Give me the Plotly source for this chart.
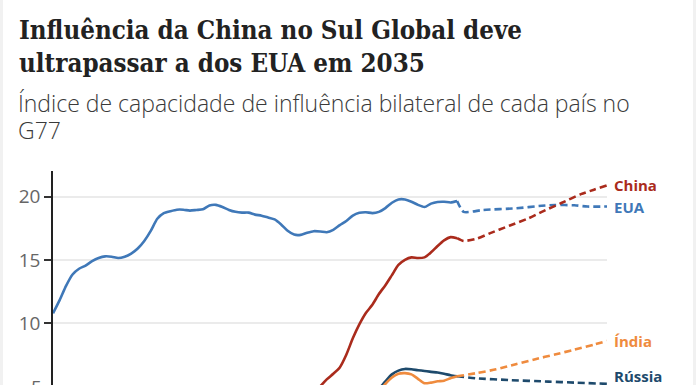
import plotly.graph_objects as go

# ---------------- data ----------------
years_hist = list(range(1960, 2023))
eua_hist = [10.78, 11.8, 12.95, 13.85, 14.3, 14.55, 14.9, 15.15, 15.28, 15.25,
            15.15, 15.25, 15.5, 15.9, 16.5, 17.3, 18.25, 18.7, 18.85, 18.97,
            18.97, 18.9, 18.95, 19.0, 19.3, 19.35, 19.18, 18.95, 18.8, 18.74,
            18.74, 18.58, 18.5, 18.35, 18.2, 17.8, 17.3, 17.0, 16.98, 17.15,
            17.27, 17.25, 17.19, 17.38, 17.75, 18.08, 18.5, 18.72, 18.77, 18.7,
            18.8, 19.1, 19.52, 19.78, 19.78, 19.6, 19.35, 19.18, 19.45, 19.58,
            19.6, 19.54, 19.66]

years_china_hist = list(range(2000, 2023))
china_hist = [4.4, 5.0, 5.55, 6.0, 6.5, 7.5, 8.8, 9.9, 10.8, 11.45,
              12.3, 13.0, 13.8, 14.6, 15.0, 15.2, 15.15, 15.2, 15.6, 16.1,
              16.55, 16.8, 16.72]

years_small_hist = list(range(2009, 2023))
russia_hist = [4.3, 4.8, 5.4, 5.95, 6.25, 6.38, 6.35, 6.28, 6.22, 6.15, 6.1, 6.0, 5.88, 5.8]
india_hist = [4.2, 4.6, 5.2, 5.7, 6.0, 6.05, 5.95, 5.6, 5.25, 5.3, 5.4, 5.45, 5.65, 5.8]

years_eua_fc = [2022, 2023, 2026, 2031, 2035, 2037, 2040, 2042, 2045]
eua_fc = [19.66, 18.8, 18.95, 19.08, 19.28, 19.34, 19.32, 19.22, 19.22]

years_china_fc = [2022, 2023, 2025, 2027, 2030, 2033, 2035, 2038, 2041, 2043, 2045]
china_fc = [16.72, 16.5, 16.68, 17.1, 17.7, 18.3, 18.8, 19.5, 20.2, 20.55, 20.9]

years_india_fc = [2022, 2025, 2028, 2031, 2034, 2037, 2040, 2043, 2045]
india_fc = [5.8, 6.05, 6.35, 6.75, 7.15, 7.52, 7.9, 8.3, 8.6]

years_russia_fc = [2022, 2025, 2030, 2036, 2040, 2045]
russia_fc = [5.8, 5.64, 5.5, 5.38, 5.3, 5.2]

series_names = ["China", "EUA", "Índia", "Rússia"]
y_ticks = [5, 10, 15, 20]

title_lines = ["Influência da China no Sul Global deve", "ultrapassar a dos EUA em 2035"]
subtitle_lines = ["Índice de capacidade de influência bilateral de cada país no", "G77"]

# ---------------- style ----------------
C_CHINA = "#aa2b1c"
C_EUA = "#3f78b8"
C_INDIA = "#ef8b3e"
C_RUSSIA = "#1e4a6c"

SANS = "Open Sans"
W, H = 696, 385
L, T = 53, 171
R = W - 607
plot_w = W - L - R
plot_h = H - T


def px_x(px):
    return (px - L) / plot_w


def px_y(py):
    return (H - py) / plot_h


fig = go.Figure()

hist = [
    (years_hist, eua_hist, C_EUA),
    (years_china_hist, china_hist, C_CHINA),
    (years_small_hist, russia_hist, C_RUSSIA),
    (years_small_hist, india_hist, C_INDIA),
]
fc = [
    (years_eua_fc, eua_fc, C_EUA),
    (years_china_fc, china_fc, C_CHINA),
    (years_russia_fc, russia_fc, C_RUSSIA),
    (years_india_fc, india_fc, C_INDIA),
]
for xs, ys, c in hist:
    fig.add_trace(go.Scatter(x=xs, y=ys, mode="lines",
                             line=dict(color=c, width=2.6, shape="spline", smoothing=0.6),
                             hoverinfo="skip", showlegend=False))
for xs, ys, c in fc:
    fig.add_trace(go.Scatter(x=xs, y=ys, mode="lines",
                             line=dict(color=c, width=2.6, dash="7px,4px", shape="spline", smoothing=0.6),
                             hoverinfo="skip", showlegend=False))

annotations = []
# title / subtitle
TFONT = dict(family="DejaVu Serif Condensed, DejaVu Serif", size=25.7, color="#222222")
annotations.append(dict(text="<b>" + title_lines[0] + "</b>", x=px_x(17), y=px_y(30), xref="paper", yref="paper",
                        xanchor="left", yanchor="middle", showarrow=False, font=TFONT))
annotations.append(dict(text="<b>" + title_lines[1] + "</b>", x=px_x(17), y=px_y(63), xref="paper", yref="paper",
                        xanchor="left", yanchor="middle", showarrow=False, font=TFONT))
SFONT = dict(family=SANS, weight=300, size=23, color="#3a3a3a")
annotations.append(dict(text=subtitle_lines[0], x=px_x(16), y=px_y(103), xref="paper", yref="paper",
                        xanchor="left", yanchor="middle", showarrow=False, font=SFONT))
annotations.append(dict(text=subtitle_lines[1], x=px_x(16), y=px_y(130), xref="paper", yref="paper",
                        xanchor="left", yanchor="middle", showarrow=False, font=SFONT))

# end labels
ends = [
    ("China", china_fc[-1], C_CHINA, 0),
    ("EUA", eua_fc[-1], C_EUA, 0),
    ("Índia", india_fc[-1], C_INDIA, 0),
    ("Rússia", russia_fc[-1], C_RUSSIA, 8),
]
for name, yv, c, ys in ends:
    annotations.append(dict(text="<b>" + name + "</b>", x=years_eua_fc[-1], y=yv, xref="x", yref="y",
                            xanchor="left", yanchor="middle", xshift=5, yshift=ys, showarrow=False,
                            font=dict(family=SANS, size=15, color=c)))

# partially visible bottom tick label (tick value lies just below the visible window)
annotations.append(dict(text=str(y_ticks[0]), x=px_x(44), y=px_y(387), xref="paper", yref="paper",
                        xanchor="right", yanchor="middle", showarrow=False,
                        font=dict(family=SANS, size=19, color="#666666")))

shapes = [
    dict(type="rect", xref="paper", yref="paper", x0=px_x(0), x1=px_x(3), y0=px_y(H), y1=px_y(0),
         fillcolor="#f1f1f1", line=dict(width=0), layer="below"),
    dict(type="rect", xref="paper", yref="paper", x0=px_x(693), x1=px_x(696), y0=px_y(H), y1=px_y(0),
         fillcolor="#f1f1f1", line=dict(width=0), layer="below"),
]

fig.update_layout(
    width=W, height=H,
    margin=dict(l=L, r=R, t=T, b=0, pad=0),
    paper_bgcolor="white", plot_bgcolor="white",
    showlegend=False,
    annotations=annotations,
    shapes=shapes,
    xaxis=dict(range=[1960, 2045], visible=False, fixedrange=True),
    yaxis=dict(range=[5.11, 22.03], tickvals=y_ticks, ticktext=[str(v) for v in y_ticks],
               showgrid=True, gridcolor="#ebebeb", gridwidth=1.5,
               showline=True, linecolor="#222222", linewidth=1.5,
               ticks="outside", ticklen=7, tickwidth=1.5, tickcolor="#333333",
               tickfont=dict(family=SANS, size=19, color="#666666"),
               zeroline=False, fixedrange=True),
)

fig.write_html("out.html", config={"displayModeBar": False},
               post_script="document.body.style.margin='0';")
